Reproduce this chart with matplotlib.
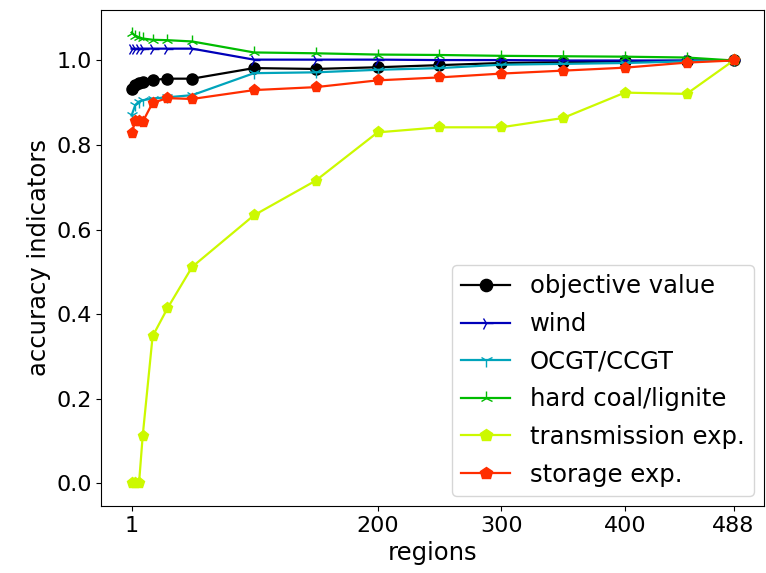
import numpy as np
import matplotlib
matplotlib.use("Agg")
import matplotlib.pyplot as plt

regions = [1, 4, 7, 10, 18, 30, 50, 100, 150, 200, 250, 300, 350, 400, 450, 488]
xtick_values = [1, 200, 300, 400, 488]

objective_value = [0.932, 0.942, 0.946, 0.949, 0.954, 0.957, 0.957, 0.982, 0.980, 0.984, 0.989, 0.994, 0.996, 0.998, 0.999, 1.0]
wind = [1.028, 1.028, 1.028, 1.028, 1.028, 1.028, 1.028, 1.002, 1.002, 1.002, 1.001, 1.001, 1.0, 1.0, 1.0, 1.0]
ocgt_ccgt = [0.870, 0.895, 0.903, 0.906, 0.910, 0.913, 0.918, 0.970, 0.972, 0.978, 0.982, 0.990, 0.992, 0.994, 0.998, 1.0]
hard_coal = [1.066, 1.058, 1.055, 1.052, 1.049, 1.048, 1.045, 1.019, 1.017, 1.014, 1.013, 1.011, 1.010, 1.009, 1.007, 1.0]
transmission = [0.0, 0.0, 0.0, 0.113, 0.348, 0.414, 0.512, 0.634, 0.716, 0.830, 0.842, 0.842, 0.864, 0.924, 0.921, 1.0]
storage = [0.828, 0.856, 0.856, 0.855, 0.900, 0.911, 0.909, 0.930, 0.937, 0.953, 0.960, 0.969, 0.976, 0.983, 0.995, 1.0]

series = [
    ("objective value", objective_value, "o"),
    ("wind", wind, "4"),
    ("OCGT/CCGT", ocgt_ccgt, "1"),
    ("hard coal/lignite", hard_coal, "2"),
    ("transmission exp.", transmission, "p"),
    ("storage exp.", storage, "p"),
]

colors = plt.cm.nipy_spectral(np.linspace(0, 1, 7))[:6]

plt.rcParams["font.size"] = 16
fig = plt.figure(figsize=(7.66, 5.73), dpi=100)
ax = fig.add_axes([0.1325, 0.117, 0.8645, 0.8655])

for (label, vals, mk), c in zip(series, colors):
    ms = 8 if mk in ("o", "p") else 9
    ax.plot(regions, vals, marker=mk, color=c, label=label, lw=1.6, markersize=ms)

ax.set_xticks(xtick_values)
ax.set_xticklabels([str(v) for v in xtick_values])
ax.tick_params(labelsize=16)
ax.set_xlabel("regions", fontsize=17.5)
ax.set_ylabel("accuracy indicators", fontsize=17.5)
ax.legend(loc="lower right", fontsize=17.5, markerscale=1.1, labelspacing=0.56,
          borderaxespad=0.4)

fig.savefig("out.png", dpi=100)
